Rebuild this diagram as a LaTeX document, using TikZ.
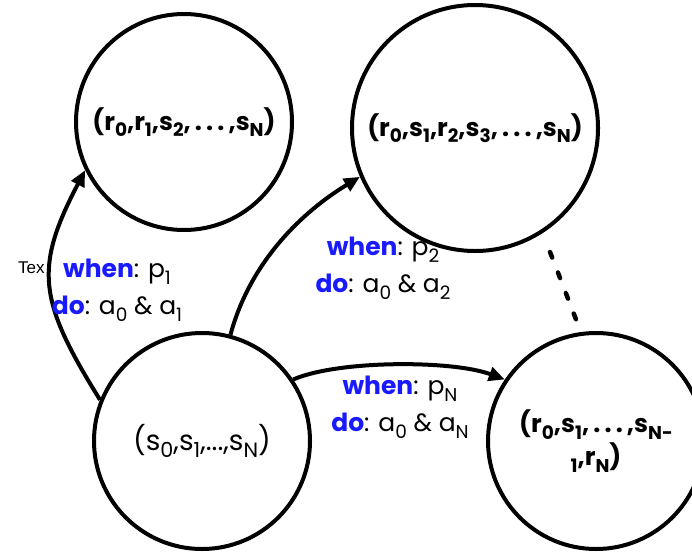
\documentclass[tikz,border=0pt]{standalone}
\usepackage{fontspec}
\setmainfont{Poppins}
\newfontfamily\stubfont{Liberation Sans}
\usetikzlibrary{arrows.meta}
\definecolor{kwblue}{RGB}{26,26,255}
\newcommand{\kw}[1]{\textbf{\textcolor{kwblue}{#1}}}
\newcommand{\dn}[1]{\raisebox{-0.26em}{\scalebox{0.74}{#1}}}
\tikzset{
statecirc/.style={circle,draw=black,line width=4pt,minimum size=216pt,inner sep=0pt,align=center},
statetxt/.style={font=\fontsize{25}{33}\selectfont\bfseries},
actlabel/.style={align=center,font=\fontsize{25}{37}\selectfont,inner sep=0pt},
transarr/.style={line width=4pt,-{Triangle[length=16pt,width=14pt]}},
dotsline/.style={line width=4.5pt,dash pattern=on 6pt off 16pt,line cap=round}
}

\begin{document}
\begin{tikzpicture}[x=1pt,y=-1pt]
\useasboundingbox (0,0) rectangle (692,551);
% states
\node[statecirc,font=\fontsize{28}{30}\selectfont] (init) at (202,441) {(s\dn{0},s\dn{1},...,s\dn{N})};
\node[statecirc,statetxt] (firstdone) at (184,122) {(r\dn{0},r\dn{1},s\dn{2},\,.\,.\,.\,,s\dn{N})};
\node[statecirc,statetxt,minimum size=246pt] (seconddone) at (475,128) {(r\dn{0},s\dn{1},r\dn{2},s\dn{3},\,.\,.\,.\,,s\dn{N})};
\node[statecirc,statetxt] (lastdone) at (596,441) {(r\dn{0},s\dn{1},\,.\,.\,.\,,s\dn{N-}\\\dn{1},r\dn{N})};
\coordinate (dotstop) at (550,252);
\coordinate (dotsbot) at (577,322);
% transitions
\draw[transarr] (init.158) .. controls (38,300) and (34,268) .. (firstdone.206);
\draw[transarr] (init.75) .. controls (250,262) and (302,212) .. (seconddone.203);
\draw[transarr] (init.34) .. controls (338,360) and (452,360) .. (lastdone.146);
\draw[dotsline] (dotstop) -- (dotsbot);
% labels
\node[font=\stubfont\fontsize{17}{20}\selectfont,anchor=west,inner sep=0pt] (texstub) at (18,268) {Tex};
\node[actlabel] (lblfirst) at (117,290) {\kw{when}: p\dn{1}\\\kw{do}: a\dn{0} \& a\dn{1}};
\node[actlabel] (lblsecond) at (383,268) {\kw{when}: p\dn{2}\\\kw{do}: a\dn{0} \& a\dn{2}};
\node[actlabel] (lbllast) at (400,407) {\kw{when}: p\dn{N}\\\kw{do}: a\dn{0} \& a\dn{N}};
\end{tikzpicture}
\end{document}
